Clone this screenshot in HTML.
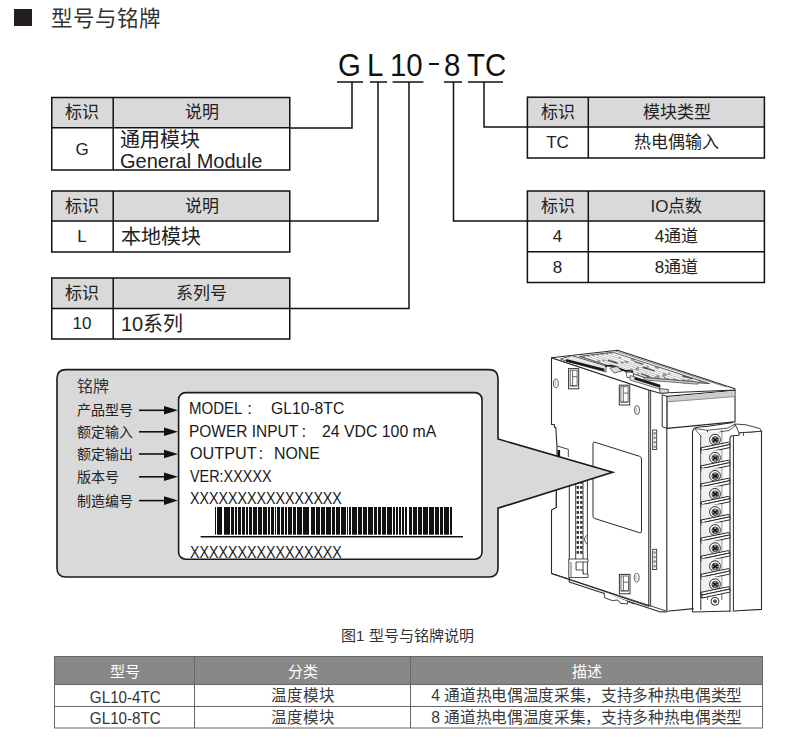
<!DOCTYPE html>
<html lang="zh-CN"><head><meta charset="utf-8">
<style>
*{margin:0;padding:0;box-sizing:border-box}
html,body{width:800px;height:742px;background:#fff;overflow:hidden}
body{position:relative;font-family:"Liberation Sans",sans-serif;color:#222}
.a{position:absolute;white-space:nowrap;line-height:1}
.c{position:absolute;display:flex;align-items:center;justify-content:center;white-space:nowrap;line-height:1}
.l{position:absolute;display:flex;align-items:center;justify-content:flex-start;white-space:nowrap;line-height:1}
svg{position:absolute;left:0;top:0}
</style></head>
<body>
<svg width="800" height="742" viewBox="0 0 800 742">
  <!-- heading square -->
  <rect x="14" y="9" width="18" height="17" fill="#231f20"/>
  <!-- left tables backgrounds -->
  <g fill="#d9d9d9">
    <rect x="51" y="97" width="239" height="31"/>
    <rect x="51" y="191" width="239" height="30"/>
    <rect x="51" y="278" width="239" height="30.5"/>
    <rect x="527" y="97" width="238" height="30"/>
    <rect x="527" y="191" width="238" height="30"/>
  </g>
  <g fill="none" stroke="#111" stroke-width="1.5">
    <!-- table 1 -->
    <rect x="51.75" y="97.5" width="238" height="72.5"/>
    <line x1="51" y1="127.7" x2="290" y2="127.7"/>
    <line x1="113.2" y1="97" x2="113.2" y2="170"/>
    <!-- table 2 -->
    <rect x="51.75" y="191" width="238" height="61"/>
    <line x1="51" y1="221" x2="290" y2="221"/>
    <line x1="113.2" y1="191" x2="113.2" y2="252"/>
    <!-- table 3 -->
    <rect x="51.75" y="278" width="238" height="61"/>
    <line x1="51" y1="308.5" x2="290" y2="308.5"/>
    <line x1="113.2" y1="278" x2="113.2" y2="339"/>
    <!-- right table 1 -->
    <rect x="527.4" y="97.2" width="237" height="60.8"/>
    <line x1="527" y1="127" x2="765" y2="127"/>
    <line x1="588.3" y1="97" x2="588.3" y2="158"/>
    <!-- right table 2 -->
    <rect x="527.4" y="191" width="237" height="91.5"/>
    <line x1="527" y1="221" x2="765" y2="221"/>
    <line x1="527" y1="251.7" x2="765" y2="251.7"/>
    <line x1="588.3" y1="191" x2="588.3" y2="282.5"/>
    <!-- code underlines -->
    <line x1="337" y1="82" x2="363" y2="82"/>
    <line x1="370" y1="82" x2="387" y2="82"/>
    <line x1="392.6" y1="82" x2="423.4" y2="82"/>
    <line x1="444" y1="82" x2="462" y2="82"/>
    <line x1="468" y1="82" x2="503" y2="82"/>
    <!-- connectors -->
    <polyline points="352,82 352,128 290,128"/>
    <polyline points="378,82 378,221 290,221"/>
    <polyline points="409,82 409,308.5 290,308.5"/>
    <polyline points="453.5,82 453.5,221 527,221"/>
    <polyline points="484,82 484,127 527,127"/>
  </g>
</svg>

<!-- heading -->
<div class="a" style="left:51px;top:9px;font-size:21.5px;color:#333">型号与铭牌</div>

<!-- code -->
<div class="a" style="left:338px;top:48.5px;font-size:32px;color:#111;transform:scaleX(0.92);transform-origin:0 0">G</div>
<div class="a" style="left:367px;top:48.5px;font-size:32px;color:#111;transform:scaleX(0.92);transform-origin:0 0">L</div>
<div class="a" style="left:390px;top:48.5px;font-size:32px;color:#111;transform:scaleX(0.92);transform-origin:0 0">10</div>
<div class="a" style="left:429px;top:63.4px;width:10px;height:1.6px;background:#111"></div>
<div class="a" style="left:444px;top:48.5px;font-size:32px;color:#111;transform:scaleX(0.92);transform-origin:0 0">8</div>
<div class="a" style="left:466.5px;top:48.5px;font-size:32px;color:#111;transform:scaleX(0.92);transform-origin:0 0">TC</div>

<!-- table 1 text -->
<div class="c" style="left:51px;top:97px;width:62px;height:31px;font-size:17px">标识</div>
<div class="c" style="left:113px;top:97px;width:177px;height:31px;font-size:17px">说明</div>
<div class="c" style="left:51px;top:128px;width:62px;height:42px;font-size:17px">G</div>
<div class="a" style="left:120px;top:130px;font-size:20px;line-height:20.5px">通用模块<br>General Module</div>

<!-- table 2 text -->
<div class="c" style="left:51px;top:191px;width:62px;height:30px;font-size:17px">标识</div>
<div class="c" style="left:113px;top:191px;width:177px;height:30px;font-size:17px">说明</div>
<div class="c" style="left:51px;top:221px;width:62px;height:31px;font-size:17px">L</div>
<div class="l" style="left:121px;top:221px;width:160px;height:31px;font-size:20px">本地模块</div>

<!-- table 3 text -->
<div class="c" style="left:51px;top:278px;width:62px;height:30.5px;font-size:17px">标识</div>
<div class="c" style="left:113px;top:278px;width:177px;height:30.5px;font-size:17px">系列号</div>
<div class="c" style="left:51px;top:308.5px;width:62px;height:30.5px;font-size:17px">10</div>
<div class="l" style="left:121px;top:308.5px;width:160px;height:30.5px;font-size:20px">10系列</div>

<!-- right table 1 -->
<div class="c" style="left:527px;top:97px;width:61px;height:30px;font-size:17px">标识</div>
<div class="c" style="left:588px;top:97px;width:177px;height:30px;font-size:17px">模块类型</div>
<div class="c" style="left:527px;top:127px;width:61px;height:31px;font-size:17px">TC</div>
<div class="c" style="left:588px;top:127px;width:177px;height:31px;font-size:17px">热电偶输入</div>

<!-- right table 2 -->
<div class="c" style="left:527px;top:191px;width:61px;height:30px;font-size:17px">标识</div>
<div class="c" style="left:588px;top:191px;width:177px;height:30px;font-size:17px">IO点数</div>
<div class="c" style="left:527px;top:221px;width:61px;height:31px;font-size:17px">4</div>
<div class="c" style="left:588px;top:221px;width:177px;height:31px;font-size:17px">4通道</div>
<div class="c" style="left:527px;top:252px;width:61px;height:31px;font-size:17px">8</div>
<div class="c" style="left:588px;top:252px;width:177px;height:31px;font-size:17px">8通道</div>

<!-- device -->
<!--DEVICE_START--><svg width="800" height="742" viewBox="0 0 800 742">
<polygon points="551.50,357.80 648.80,390.00 648.80,606.30 551.50,573.60 551.50,510.00 556.30,507.50 556.30,492.00 557.00,470.00 557.00,446.00 556.30,436.00 555.80,427.20 554.40,427.20 554.40,424.50 551.50,424.50" fill="#fff" stroke="#2a2a2a" stroke-width="1.1" stroke-linejoin="round"/>
<polygon points="551.50,357.80 617.50,350.30 735.00,388.70 735.00,390.00 668.30,392.80 660.20,393.20 648.80,390.00" fill="#fff" stroke="#2a2a2a" stroke-width="1.1" stroke-linejoin="round"/>
<polygon points="579.26,356.40 612.58,352.17 709.58,383.60 698.98,383.05 645.26,377.78" fill="#959595" stroke="#444" stroke-width="0.8" stroke-linejoin="round"/>
<line x1="614.20" y1="350.68" x2="726.20" y2="386.96" stroke="#555" stroke-width="0.7"/>
<line x1="585.22" y1="356.59" x2="597.50" y2="360.57" stroke="#f8f8f8" stroke-width="1.5"/>
<line x1="600.36" y1="361.50" x2="615.02" y2="366.25" stroke="#f8f8f8" stroke-width="1.5"/>
<line x1="618.03" y1="367.23" x2="637.30" y2="373.47" stroke="#f8f8f8" stroke-width="1.5"/>
<line x1="638.96" y1="374.01" x2="645.91" y2="376.26" stroke="#f8f8f8" stroke-width="1.5"/>
<line x1="589.84" y1="356.07" x2="602.51" y2="360.17" stroke="#f8f8f8" stroke-width="1.5"/>
<line x1="604.59" y1="360.85" x2="630.52" y2="369.25" stroke="#f8f8f8" stroke-width="1.5"/>
<line x1="633.19" y1="370.11" x2="654.84" y2="377.13" stroke="#f8f8f8" stroke-width="1.5"/>
<line x1="594.46" y1="355.54" x2="613.96" y2="361.86" stroke="#f8f8f8" stroke-width="1.5"/>
<line x1="615.84" y1="362.47" x2="635.27" y2="368.77" stroke="#f8f8f8" stroke-width="1.5"/>
<line x1="638.94" y1="369.95" x2="656.35" y2="375.60" stroke="#f8f8f8" stroke-width="1.5"/>
<line x1="659.71" y1="376.68" x2="663.77" y2="378.00" stroke="#f8f8f8" stroke-width="1.5"/>
<line x1="599.08" y1="355.02" x2="620.73" y2="362.03" stroke="#f8f8f8" stroke-width="1.5"/>
<line x1="623.71" y1="363.00" x2="637.13" y2="367.35" stroke="#f8f8f8" stroke-width="1.5"/>
<line x1="638.71" y1="367.86" x2="662.29" y2="375.50" stroke="#f8f8f8" stroke-width="1.5"/>
<line x1="664.97" y1="376.37" x2="672.70" y2="378.87" stroke="#f8f8f8" stroke-width="1.5"/>
<line x1="603.70" y1="354.49" x2="624.55" y2="361.25" stroke="#f8f8f8" stroke-width="1.5"/>
<line x1="628.36" y1="362.48" x2="643.47" y2="367.38" stroke="#f8f8f8" stroke-width="1.5"/>
<line x1="646.97" y1="368.51" x2="662.97" y2="373.70" stroke="#f8f8f8" stroke-width="1.5"/>
<line x1="666.81" y1="374.94" x2="681.62" y2="379.74" stroke="#f8f8f8" stroke-width="1.5"/>
<line x1="608.32" y1="353.97" x2="618.77" y2="357.35" stroke="#f8f8f8" stroke-width="1.5"/>
<line x1="620.81" y1="358.02" x2="646.19" y2="366.24" stroke="#f8f8f8" stroke-width="1.5"/>
<line x1="648.78" y1="367.08" x2="668.06" y2="373.32" stroke="#f8f8f8" stroke-width="1.5"/>
<line x1="670.31" y1="374.05" x2="687.44" y2="379.60" stroke="#f8f8f8" stroke-width="1.5"/>
<line x1="689.91" y1="380.40" x2="690.55" y2="380.61" stroke="#f8f8f8" stroke-width="1.5"/>
<line x1="612.28" y1="353.52" x2="630.80" y2="359.52" stroke="#f8f8f8" stroke-width="1.5"/>
<line x1="634.56" y1="360.74" x2="654.83" y2="367.31" stroke="#f8f8f8" stroke-width="1.5"/>
<line x1="658.66" y1="368.54" x2="682.07" y2="376.13" stroke="#f8f8f8" stroke-width="1.5"/>
<line x1="686.05" y1="377.42" x2="698.20" y2="381.36" stroke="#f8f8f8" stroke-width="1.5"/>
<line x1="607.80" y1="360.16" x2="617.80" y2="363.40" stroke="#444" stroke-width="1.2"/>
<line x1="642.70" y1="367.13" x2="654.70" y2="371.02" stroke="#444" stroke-width="1.2"/>
<line x1="641.20" y1="373.87" x2="649.20" y2="376.46" stroke="#444" stroke-width="1.2"/>
<line x1="682.60" y1="375.73" x2="692.60" y2="378.97" stroke="#444" stroke-width="1.2"/>
<line x1="634.30" y1="361.52" x2="643.30" y2="364.44" stroke="#444" stroke-width="1.2"/>
<line x1="677.42" y1="380.69" x2="685.42" y2="383.28" stroke="#444" stroke-width="1.2"/>
<polygon points="560.50,359.00 571.90,355.60 606.00,366.00 606.00,372.00 565.00,360.80" fill="#e8e8e8" stroke="#333" stroke-width="0.8" stroke-linejoin="round"/>
<line x1="566.00" y1="360.20" x2="604.40" y2="370.00" stroke="#1a1a1a" stroke-width="2.6"/>
<path d="M605,366.5 Q612,364 618,368 L626,371 Q629,369.5 633,372" fill="none" stroke="#111" stroke-width="1.6" stroke-linejoin="round"/>
<polygon points="610.00,368.00 617.00,366.50 622.00,371.00 614.00,373.00" fill="#ddd" stroke="#333" stroke-width="0.7" stroke-linejoin="round"/>
<polygon points="626.00,372.00 633.00,372.50 634.00,378.00 627.00,377.50" fill="#fff" stroke="#333" stroke-width="0.8" stroke-linejoin="round"/>
<polygon points="630.00,375.50 660.00,385.00 660.00,389.00 630.00,380.00" fill="#e8e8e8" stroke="#333" stroke-width="0.7" stroke-linejoin="round"/>
<line x1="634.50" y1="378.20" x2="660.00" y2="386.20" stroke="#1a1a1a" stroke-width="2.6"/>
<polygon points="643.70,377.50 697.50,382.00 697.50,384.20 645.00,380.00" fill="#ccc" stroke="#444" stroke-width="0.7" stroke-linejoin="round"/>
<polygon points="659.40,388.70 668.30,389.50 668.30,392.80 660.20,393.20" fill="#ddd" stroke="#333" stroke-width="0.8" stroke-linejoin="round"/>
<polygon points="662.20,394.80 667.10,396.40 667.10,428.40 662.20,426.70" fill="#fff" stroke="#2a2a2a" stroke-width="1" stroke-linejoin="round"/>
<polygon points="667.10,396.40 735.00,390.30 735.00,421.90 667.10,428.40" fill="#fff" stroke="#2a2a2a" stroke-width="1.1" stroke-linejoin="round"/>
<polygon points="667.60,397.00 734.50,390.90 734.50,396.40 667.60,401.70" fill="#cdcdcd" stroke-linejoin="round"/>
<line x1="667.10" y1="401.90" x2="735.00" y2="396.60" stroke="#666" stroke-width="0.7"/>
<line x1="650.60" y1="391.00" x2="650.60" y2="606.50" stroke="#2a2a2a" stroke-width="0.9"/>
<line x1="666.80" y1="428.40" x2="666.80" y2="610.50" stroke="#2a2a2a" stroke-width="1.1"/>
<polyline points="551.50,573.60 569.30,579.30 569.30,582.00 659.00,611.60 667.00,612.00" fill="none" stroke="#2a2a2a" stroke-width="1.1" stroke-linejoin="round"/>
<line x1="569.30" y1="579.30" x2="666.80" y2="611.20" stroke="#2a2a2a" stroke-width="0.9"/>
<polyline points="604.00,592.30 604.70,597.80 612.30,600.60 617.80,600.00 620.50,603.30 627.40,604.00 627.40,601.30 634.30,604.00" fill="#fff" stroke="#2a2a2a" stroke-width="0.9" stroke-linejoin="round"/>
<line x1="666.80" y1="611.20" x2="693.60" y2="608.60" stroke="#2a2a2a" stroke-width="1.1"/>
<path d="M692.5,612 V433 Q692.5,428 697,427.3 L708,426.3 L733,422.5" fill="none" stroke="#2a2a2a" stroke-width="1.1" stroke-linejoin="round"/>
<line x1="700.80" y1="436.00" x2="700.80" y2="610.00" stroke="#2a2a2a" stroke-width="1"/>
<line x1="692.50" y1="612.00" x2="733.40" y2="611.00" stroke="#2a2a2a" stroke-width="1"/>
<polygon points="694.50,428.50 707.50,430.30 707.50,436.50 700.80,436.00" fill="#fff" stroke="#2a2a2a" stroke-width="0.8" stroke-linejoin="round"/>
<polygon points="707.50,430.30 728.00,428.00 735.00,424.00 735.00,426.00 729.00,430.50 721.80,431.50 707.50,436.50" fill="#fff" stroke="#2a2a2a" stroke-width="0.8" stroke-linejoin="round"/>
<line x1="707.60" y1="436.50" x2="707.60" y2="600.00" stroke="#2a2a2a" stroke-width="0.7"/>
<line x1="721.80" y1="430.00" x2="721.80" y2="600.00" stroke="#2a2a2a" stroke-width="0.7"/>
<path d="M730,612 V438 Q730,436 732,435.8 L739,435.3 L739,432.8 L743.5,432.5 L761.5,431.2 V609.4 L733.4,611" fill="#fff" stroke="#2a2a2a" stroke-width="1.1" stroke-linejoin="round"/>
<polygon points="739.00,432.80 743.50,432.50 761.50,431.20 760.00,428.60 746.00,424.80 735.00,424.00" fill="#fff" stroke="#2a2a2a" stroke-width="0.9" stroke-linejoin="round"/>
<line x1="733.40" y1="436.00" x2="733.40" y2="611.00" stroke="#2a2a2a" stroke-width="1"/>
<line x1="743.50" y1="432.50" x2="743.50" y2="436.00" stroke="#2a2a2a" stroke-width="0.8"/>
<rect x="701.5" y="432.20" width="20" height="15" fill="#f0f0f0"/>
<circle cx="715" cy="439.70" r="5.4" fill="#fff" stroke="#333" stroke-width="1"/>
<circle cx="715.3" cy="440.00" r="3.4" fill="#999" stroke="#444" stroke-width="0.9"/>
<path d="M713,438.20 L717.5,441.70 M717.5,438.20 L713,441.70" stroke="#111" stroke-width="1.5"/>
<polygon points="700.80,447.80 728.80,442.10 730.00,444.50 702.00,450.50" fill="#fff" stroke="#2a2a2a" stroke-width="1" stroke-linejoin="round"/>
<polygon points="702.00,450.50 730.00,444.50 730.00,447.50 702.00,453.50" fill="#fff" stroke="#2a2a2a" stroke-width="1" stroke-linejoin="round"/>
<line x1="700.80" y1="447.80" x2="700.80" y2="452.30" stroke="#2a2a2a" stroke-width="0.9"/>
<line x1="700.80" y1="452.30" x2="702.00" y2="453.50" stroke="#2a2a2a" stroke-width="0.9"/>
<rect x="701.5" y="450.27" width="20" height="15" fill="#f0f0f0"/>
<circle cx="715" cy="457.77" r="5.4" fill="#fff" stroke="#333" stroke-width="1"/>
<circle cx="715.3" cy="458.07" r="3.4" fill="#999" stroke="#444" stroke-width="0.9"/>
<path d="M713,456.27 L717.5,459.77 M717.5,456.27 L713,459.77" stroke="#111" stroke-width="1.5"/>
<polygon points="700.80,465.87 728.80,460.17 730.00,462.57 702.00,468.57" fill="#fff" stroke="#2a2a2a" stroke-width="1" stroke-linejoin="round"/>
<polygon points="702.00,468.57 730.00,462.57 730.00,465.57 702.00,471.57" fill="#fff" stroke="#2a2a2a" stroke-width="1" stroke-linejoin="round"/>
<line x1="700.80" y1="465.87" x2="700.80" y2="470.37" stroke="#2a2a2a" stroke-width="0.9"/>
<line x1="700.80" y1="470.37" x2="702.00" y2="471.57" stroke="#2a2a2a" stroke-width="0.9"/>
<rect x="701.5" y="468.34" width="20" height="15" fill="#f0f0f0"/>
<circle cx="715" cy="475.84" r="5.4" fill="#fff" stroke="#333" stroke-width="1"/>
<circle cx="715.3" cy="476.14" r="3.4" fill="#999" stroke="#444" stroke-width="0.9"/>
<path d="M713,474.34 L717.5,477.84 M717.5,474.34 L713,477.84" stroke="#111" stroke-width="1.5"/>
<polygon points="700.80,483.94 728.80,478.24 730.00,480.64 702.00,486.64" fill="#fff" stroke="#2a2a2a" stroke-width="1" stroke-linejoin="round"/>
<polygon points="702.00,486.64 730.00,480.64 730.00,483.64 702.00,489.64" fill="#fff" stroke="#2a2a2a" stroke-width="1" stroke-linejoin="round"/>
<line x1="700.80" y1="483.94" x2="700.80" y2="488.44" stroke="#2a2a2a" stroke-width="0.9"/>
<line x1="700.80" y1="488.44" x2="702.00" y2="489.64" stroke="#2a2a2a" stroke-width="0.9"/>
<rect x="701.5" y="486.41" width="20" height="15" fill="#f0f0f0"/>
<circle cx="715" cy="493.91" r="5.4" fill="#fff" stroke="#333" stroke-width="1"/>
<circle cx="715.3" cy="494.21" r="3.4" fill="#999" stroke="#444" stroke-width="0.9"/>
<path d="M713,492.41 L717.5,495.91 M717.5,492.41 L713,495.91" stroke="#111" stroke-width="1.5"/>
<polygon points="700.80,502.01 728.80,496.31 730.00,498.71 702.00,504.71" fill="#fff" stroke="#2a2a2a" stroke-width="1" stroke-linejoin="round"/>
<polygon points="702.00,504.71 730.00,498.71 730.00,501.71 702.00,507.71" fill="#fff" stroke="#2a2a2a" stroke-width="1" stroke-linejoin="round"/>
<line x1="700.80" y1="502.01" x2="700.80" y2="506.51" stroke="#2a2a2a" stroke-width="0.9"/>
<line x1="700.80" y1="506.51" x2="702.00" y2="507.71" stroke="#2a2a2a" stroke-width="0.9"/>
<rect x="701.5" y="504.48" width="20" height="15" fill="#f0f0f0"/>
<circle cx="715" cy="511.98" r="5.4" fill="#fff" stroke="#333" stroke-width="1"/>
<circle cx="715.3" cy="512.28" r="3.4" fill="#999" stroke="#444" stroke-width="0.9"/>
<path d="M713,510.48 L717.5,513.98 M717.5,510.48 L713,513.98" stroke="#111" stroke-width="1.5"/>
<polygon points="700.80,520.08 728.80,514.38 730.00,516.78 702.00,522.78" fill="#fff" stroke="#2a2a2a" stroke-width="1" stroke-linejoin="round"/>
<polygon points="702.00,522.78 730.00,516.78 730.00,519.78 702.00,525.78" fill="#fff" stroke="#2a2a2a" stroke-width="1" stroke-linejoin="round"/>
<line x1="700.80" y1="520.08" x2="700.80" y2="524.58" stroke="#2a2a2a" stroke-width="0.9"/>
<line x1="700.80" y1="524.58" x2="702.00" y2="525.78" stroke="#2a2a2a" stroke-width="0.9"/>
<rect x="701.5" y="522.55" width="20" height="15" fill="#f0f0f0"/>
<circle cx="715" cy="530.05" r="5.4" fill="#fff" stroke="#333" stroke-width="1"/>
<circle cx="715.3" cy="530.35" r="3.4" fill="#999" stroke="#444" stroke-width="0.9"/>
<path d="M713,528.55 L717.5,532.05 M717.5,528.55 L713,532.05" stroke="#111" stroke-width="1.5"/>
<polygon points="700.80,538.15 728.80,532.45 730.00,534.85 702.00,540.85" fill="#fff" stroke="#2a2a2a" stroke-width="1" stroke-linejoin="round"/>
<polygon points="702.00,540.85 730.00,534.85 730.00,537.85 702.00,543.85" fill="#fff" stroke="#2a2a2a" stroke-width="1" stroke-linejoin="round"/>
<line x1="700.80" y1="538.15" x2="700.80" y2="542.65" stroke="#2a2a2a" stroke-width="0.9"/>
<line x1="700.80" y1="542.65" x2="702.00" y2="543.85" stroke="#2a2a2a" stroke-width="0.9"/>
<rect x="701.5" y="540.62" width="20" height="15" fill="#f0f0f0"/>
<circle cx="715" cy="548.12" r="5.4" fill="#fff" stroke="#333" stroke-width="1"/>
<circle cx="715.3" cy="548.42" r="3.4" fill="#999" stroke="#444" stroke-width="0.9"/>
<path d="M713,546.62 L717.5,550.12 M717.5,546.62 L713,550.12" stroke="#111" stroke-width="1.5"/>
<polygon points="700.80,556.22 728.80,550.52 730.00,552.92 702.00,558.92" fill="#fff" stroke="#2a2a2a" stroke-width="1" stroke-linejoin="round"/>
<polygon points="702.00,558.92 730.00,552.92 730.00,555.92 702.00,561.92" fill="#fff" stroke="#2a2a2a" stroke-width="1" stroke-linejoin="round"/>
<line x1="700.80" y1="556.22" x2="700.80" y2="560.72" stroke="#2a2a2a" stroke-width="0.9"/>
<line x1="700.80" y1="560.72" x2="702.00" y2="561.92" stroke="#2a2a2a" stroke-width="0.9"/>
<rect x="701.5" y="558.69" width="20" height="15" fill="#f0f0f0"/>
<circle cx="715" cy="566.19" r="5.4" fill="#fff" stroke="#333" stroke-width="1"/>
<circle cx="715.3" cy="566.49" r="3.4" fill="#999" stroke="#444" stroke-width="0.9"/>
<path d="M713,564.69 L717.5,568.19 M717.5,564.69 L713,568.19" stroke="#111" stroke-width="1.5"/>
<polygon points="700.80,574.29 728.80,568.59 730.00,570.99 702.00,576.99" fill="#fff" stroke="#2a2a2a" stroke-width="1" stroke-linejoin="round"/>
<polygon points="702.00,576.99 730.00,570.99 730.00,573.99 702.00,579.99" fill="#fff" stroke="#2a2a2a" stroke-width="1" stroke-linejoin="round"/>
<line x1="700.80" y1="574.29" x2="700.80" y2="578.79" stroke="#2a2a2a" stroke-width="0.9"/>
<line x1="700.80" y1="578.79" x2="702.00" y2="579.99" stroke="#2a2a2a" stroke-width="0.9"/>
<rect x="701.5" y="576.76" width="20" height="15" fill="#f0f0f0"/>
<circle cx="715" cy="584.26" r="5.4" fill="#fff" stroke="#333" stroke-width="1"/>
<circle cx="715.3" cy="584.56" r="3.4" fill="#999" stroke="#444" stroke-width="0.9"/>
<path d="M713,582.76 L717.5,586.26 M717.5,582.76 L713,586.26" stroke="#111" stroke-width="1.5"/>
<polygon points="700.80,592.36 728.80,586.66 730.00,589.06 702.00,595.06" fill="#fff" stroke="#2a2a2a" stroke-width="1" stroke-linejoin="round"/>
<polygon points="702.00,595.06 730.00,589.06 730.00,592.06 702.00,598.06" fill="#fff" stroke="#2a2a2a" stroke-width="1" stroke-linejoin="round"/>
<line x1="700.80" y1="592.36" x2="700.80" y2="596.86" stroke="#2a2a2a" stroke-width="0.9"/>
<line x1="700.80" y1="596.86" x2="702.00" y2="598.06" stroke="#2a2a2a" stroke-width="0.9"/>
<circle cx="715" cy="601.3" r="4" fill="#fff" stroke="#333" stroke-width="1"/>
<circle cx="715" cy="601.3" r="2" fill="#555"/>
<rect x="652.7" y="430" width="4" height="19.5" fill="#fff" stroke="#333" stroke-width="0.9"/>
<rect x="653.7" y="432.0" width="2" height="2.6" fill="#888"/>
<rect x="653.7" y="436.5" width="2" height="2.6" fill="#888"/>
<rect x="653.7" y="441.0" width="2" height="2.6" fill="#888"/>
<rect x="653.7" y="445.5" width="2" height="2.6" fill="#888"/>
<rect x="652.7" y="549.3" width="4" height="20.2" fill="#fff" stroke="#333" stroke-width="0.9"/>
<rect x="653.7" y="551.3" width="2" height="2.6" fill="#888"/>
<rect x="653.7" y="555.8" width="2" height="2.6" fill="#888"/>
<rect x="653.7" y="560.3" width="2" height="2.6" fill="#888"/>
<rect x="653.7" y="564.8" width="2" height="2.6" fill="#888"/>
<rect x="568.6" y="368.6" width="10.1" height="20.2" fill="#fff" stroke="#333" stroke-width="1"/>
<rect x="570.2" y="370.2" width="6.9" height="15.7" fill="none" stroke="#444" stroke-width="0.8"/>
<path d="M572.6,370.6 V385.8 M572.6,376.7 H577.1 M570.2,385.9 H577.1" fill="none" stroke="#444" stroke-width="0.8"/>
<rect x="619.3" y="385.2" width="10.4" height="19.8" fill="#fff" stroke="#333" stroke-width="1"/>
<rect x="620.9" y="386.8" width="7.2" height="15.3" fill="none" stroke="#444" stroke-width="0.8"/>
<path d="M623.3,387.2 V402.0 M623.3,393.1 H628.1 M620.9,402.1 H628.1" fill="none" stroke="#444" stroke-width="0.8"/>
<rect x="619.4" y="574.4" width="10.6" height="19.4" fill="#fff" stroke="#333" stroke-width="1"/>
<rect x="621.0" y="576.0" width="7.4" height="14.9" fill="none" stroke="#444" stroke-width="0.8"/>
<path d="M623.4,576.4 V590.8 M623.4,582.2 H628.4 M621.0,590.9 H628.4" fill="none" stroke="#444" stroke-width="0.8"/>
<ellipse cx="555.9" cy="383.4" rx="2.4" ry="4.3" fill="none" stroke="#444" stroke-width="0.9"/>
<line x1="555.3" y1="380.9" x2="555.3" y2="385.9" stroke="#777" stroke-width="0.6"/>
<ellipse cx="637" cy="410" rx="2.4" ry="4.3" fill="none" stroke="#444" stroke-width="0.9"/>
<line x1="636.4" y1="407.5" x2="636.4" y2="412.5" stroke="#777" stroke-width="0.6"/>
<ellipse cx="636.7" cy="577.6" rx="2.4" ry="4.3" fill="none" stroke="#444" stroke-width="0.9"/>
<line x1="636.1" y1="575.1" x2="636.1" y2="580.1" stroke="#777" stroke-width="0.6"/>
<path d="M593,443.5 Q593,441.8 595,442.3 L639.5,456.3 Q641.5,457 641.5,459 V531 Q641.5,533.3 639.5,532.7 L595,518.6 Q593,518 593,516 Z" fill="#fff" stroke="#2a2a2a" stroke-width="1" stroke-linejoin="round"/>
<polyline points="557.00,446.00 568.30,449.30 568.30,457.00" fill="none" stroke="#2a2a2a" stroke-width="0.9" stroke-linejoin="round"/>
<rect x="557.5" y="450" width="2.6" height="8" fill="#111"/>
<line x1="569.30" y1="479.00" x2="569.30" y2="579.00" stroke="#2a2a2a" stroke-width="1"/>
<line x1="575.70" y1="480.00" x2="575.70" y2="575.00" stroke="#2a2a2a" stroke-width="0.9"/>
<line x1="583.00" y1="478.00" x2="583.00" y2="575.00" stroke="#2a2a2a" stroke-width="0.9"/>
<line x1="587.40" y1="478.00" x2="587.40" y2="575.00" stroke="#2a2a2a" stroke-width="0.9"/>
<rect x="576.6" y="481.0" width="2.4" height="2.8" fill="#333"/>
<rect x="580.1" y="481.0" width="2.4" height="2.8" fill="#333"/>
<rect x="576.6" y="486.0" width="2.4" height="2.8" fill="#333"/>
<rect x="580.1" y="486.0" width="2.4" height="2.8" fill="#333"/>
<rect x="576.6" y="491.0" width="2.4" height="2.8" fill="#333"/>
<rect x="580.1" y="491.0" width="2.4" height="2.8" fill="#333"/>
<rect x="576.6" y="496.0" width="2.4" height="2.8" fill="#333"/>
<rect x="580.1" y="496.0" width="2.4" height="2.8" fill="#333"/>
<rect x="576.6" y="501.0" width="2.4" height="2.8" fill="#333"/>
<rect x="580.1" y="501.0" width="2.4" height="2.8" fill="#333"/>
<rect x="576.6" y="506.0" width="2.4" height="2.8" fill="#333"/>
<rect x="580.1" y="506.0" width="2.4" height="2.8" fill="#333"/>
<rect x="576.6" y="511.0" width="2.4" height="2.8" fill="#333"/>
<rect x="580.1" y="511.0" width="2.4" height="2.8" fill="#333"/>
<rect x="576.6" y="516.0" width="2.4" height="2.8" fill="#333"/>
<rect x="580.1" y="516.0" width="2.4" height="2.8" fill="#333"/>
<rect x="576.6" y="521.0" width="2.4" height="2.8" fill="#333"/>
<rect x="580.1" y="521.0" width="2.4" height="2.8" fill="#333"/>
<rect x="576.6" y="526.0" width="2.4" height="2.8" fill="#333"/>
<rect x="580.1" y="526.0" width="2.4" height="2.8" fill="#333"/>
<rect x="576.6" y="531.0" width="2.4" height="2.8" fill="#333"/>
<rect x="580.1" y="531.0" width="2.4" height="2.8" fill="#333"/>
<rect x="576.6" y="536.0" width="2.4" height="2.8" fill="#333"/>
<rect x="580.1" y="536.0" width="2.4" height="2.8" fill="#333"/>
<rect x="576.6" y="541.0" width="2.4" height="2.8" fill="#333"/>
<rect x="580.1" y="541.0" width="2.4" height="2.8" fill="#333"/>
<rect x="576.6" y="546.0" width="2.4" height="2.8" fill="#333"/>
<rect x="580.1" y="546.0" width="2.4" height="2.8" fill="#333"/>
<rect x="576.6" y="551.0" width="2.4" height="2.8" fill="#333"/>
<rect x="580.1" y="551.0" width="2.4" height="2.8" fill="#333"/>
<path d="M587.4,535 Q584,537 584.5,540 Q585,543 587.4,544" fill="none" stroke="#2a2a2a" stroke-width="0.8" stroke-linejoin="round"/>
<polygon points="568.80,559.00 588.00,559.00 588.00,562.00 576.00,562.00 576.00,570.00 583.00,570.00 583.00,574.00 588.00,574.00 588.00,577.50 568.80,577.50" fill="#fff" stroke="#2a2a2a" stroke-width="0.8" stroke-linejoin="round"/>
<line x1="571.00" y1="562.00" x2="571.00" y2="577.00" stroke="#2a2a2a" stroke-width="0.7"/>
<line x1="556.30" y1="492.00" x2="556.30" y2="507.50" stroke="#2a2a2a" stroke-width="0.9"/>
</svg><!--DEVICE_END-->

<svg width="800" height="742" viewBox="0 0 800 742">
  <!-- nameplate outer -->
  <path d="M66,369.6 H489 Q498,369.6 498,378.6 V439 L612.6,472.2 L498,508.2 V568 Q498,577 489,577 H66 Q57,577 57,568 V378.6 Q57,369.6 66,369.6 Z" fill="#d9d9d9" stroke="#1a1a1a" stroke-width="1.6"/>
  <rect x="178.6" y="392.6" width="303.4" height="166.6" rx="7" ry="7" fill="#fff" stroke="#1a1a1a" stroke-width="1.6"/>
  <!-- arrows -->
  <g stroke="#111" stroke-width="1.6">
    <line x1="139" y1="410.3" x2="166" y2="410.3"/>
    <line x1="139" y1="431.8" x2="166" y2="431.8"/>
    <line x1="139" y1="454" x2="166" y2="454"/>
    <line x1="139" y1="476.8" x2="166" y2="476.8"/>
    <line x1="139" y1="500.6" x2="166" y2="500.6"/>
  </g>
  <g fill="#111">
    <polygon points="164,406 178,410.3 164,414.6"/>
    <polygon points="164,427.5 178,431.8 164,436.1"/>
    <polygon points="164,449.7 178,454 164,458.3"/>
    <polygon points="164,472.5 178,476.8 164,481.1"/>
    <polygon points="164,496.3 178,500.6 164,504.9"/>
  </g>
  <!-- barcode underline -->
  <line x1="200.6" y1="536.8" x2="463" y2="536.8" stroke="#111" stroke-width="1.5"/>
  <g fill="#111"><rect x="215" y="507" width="1" height="27.7"/><rect x="217" y="507" width="5" height="27.7"/><rect x="224" y="507" width="6" height="27.7"/><rect x="231" y="507" width="3" height="27.7"/><rect x="235" y="507" width="2" height="27.7"/><rect x="238" y="507" width="3" height="27.7"/><rect x="242" y="507" width="3" height="27.7"/><rect x="246" y="507" width="2" height="27.7"/><rect x="249" y="507" width="3" height="27.7"/><rect x="253" y="507" width="4" height="27.7"/><rect x="258" y="507" width="4" height="27.7"/><rect x="263" y="507" width="4" height="27.7"/><rect x="268" y="507" width="2" height="27.7"/><rect x="271" y="507" width="3" height="27.7"/><rect x="275" y="507" width="1" height="27.7"/><rect x="277" y="507" width="3" height="27.7"/><rect x="281" y="507" width="3" height="27.7"/><rect x="285" y="507" width="2" height="27.7"/><rect x="288" y="507" width="4" height="27.7"/><rect x="293" y="507" width="3" height="27.7"/><rect x="297" y="507" width="5" height="27.7"/><rect x="303" y="507" width="6" height="27.7"/><rect x="311" y="507" width="4" height="27.7"/><rect x="316" y="507" width="4" height="27.7"/><rect x="321" y="507" width="4" height="27.7"/><rect x="326" y="507" width="5" height="27.7"/><rect x="332" y="507" width="3" height="27.7"/><rect x="336" y="507" width="4" height="27.7"/><rect x="341" y="507" width="5" height="27.7"/><rect x="347" y="507" width="1" height="27.7"/><rect x="349" y="507" width="2" height="27.7"/><rect x="352" y="507" width="5" height="27.7"/><rect x="358" y="507" width="4" height="27.7"/><rect x="363" y="507" width="4" height="27.7"/><rect x="368" y="507" width="5" height="27.7"/><rect x="374" y="507" width="3" height="27.7"/><rect x="378" y="507" width="3" height="27.7"/><rect x="382" y="507" width="4" height="27.7"/><rect x="387" y="507" width="5" height="27.7"/><rect x="393" y="507" width="2" height="27.7"/><rect x="396" y="507" width="2" height="27.7"/><rect x="399" y="507" width="2" height="27.7"/><rect x="402" y="507" width="2" height="27.7"/><rect x="405" y="507" width="2" height="27.7"/><rect x="409" y="507" width="3" height="27.7"/><rect x="413" y="507" width="4" height="27.7"/><rect x="418" y="507" width="4" height="27.7"/><rect x="423" y="507" width="5" height="27.7"/><rect x="429" y="507" width="5" height="27.7"/><rect x="435" y="507" width="4" height="27.7"/><rect x="440" y="507" width="3" height="27.7"/><rect x="444" y="507" width="5" height="27.7"/><rect x="450" y="507" width="2" height="27.7"/></g>
  <!-- bottom table -->
  <rect x="54.5" y="656.5" width="708" height="28" fill="#888"/>
  <g fill="none" stroke="#666" stroke-width="1">
    <rect x="54.5" y="656.5" width="708" height="71.5"/>
    <line x1="54.5" y1="684.5" x2="762.5" y2="684.5"/>
    <line x1="54.5" y1="706.5" x2="762.5" y2="706.5"/>
    <line x1="194.5" y1="656.5" x2="194.5" y2="728"/>
    <line x1="410.5" y1="656.5" x2="410.5" y2="728"/>
  </g>
</svg>

<!-- nameplate text -->
<div class="a" style="left:77px;top:379px;font-size:16px;color:#333">铭牌</div>
<div class="l" style="left:77px;top:400px;height:20px;font-size:14px;color:#222">产品型号</div>
<div class="l" style="left:77px;top:421.5px;height:20px;font-size:14px;color:#222">额定输入</div>
<div class="l" style="left:77px;top:444px;height:20px;font-size:14px;color:#222">额定输出</div>
<div class="l" style="left:77px;top:467px;height:20px;font-size:14px;color:#222">版本号</div>
<div class="l" style="left:77px;top:490.5px;height:20px;font-size:14px;color:#222">制造编号</div>

<div class="a" style="left:189.3px;top:400.1px;font-size:17px;color:#1a1a1a;transform:scaleX(0.883);transform-origin:0 0">MODEL</div>
<div class="a" style="left:247.3px;top:400.1px;font-size:17px;color:#1a1a1a;transform:scaleX(1);transform-origin:0 0">:</div>
<div class="a" style="left:271.2px;top:400.1px;font-size:17px;color:#1a1a1a;transform:scaleX(0.923);transform-origin:0 0">GL10-8TC</div>
<div class="a" style="left:188.7px;top:422.6px;font-size:17px;color:#1a1a1a;transform:scaleX(0.91);transform-origin:0 0">POWER INPUT</div>
<div class="a" style="left:301.6px;top:422.6px;font-size:17px;color:#1a1a1a;transform:scaleX(1);transform-origin:0 0">:</div>
<div class="a" style="left:321.9px;top:422.6px;font-size:17px;color:#1a1a1a;transform:scaleX(0.931);transform-origin:0 0">24 VDC 100 mA</div>
<div class="a" style="left:189.7px;top:445.1px;font-size:17px;color:#1a1a1a;transform:scaleX(0.954);transform-origin:0 0">OUTPUT</div>
<div class="a" style="left:258.6px;top:445.1px;font-size:17px;color:#1a1a1a;transform:scaleX(1);transform-origin:0 0">:</div>
<div class="a" style="left:274px;top:445.1px;font-size:17px;color:#1a1a1a;transform:scaleX(0.933);transform-origin:0 0">NONE</div>
<div class="a" style="left:189.7px;top:467.5px;font-size:17px;color:#1a1a1a;transform:scaleX(0.847);transform-origin:0 0">VER:XXXXX</div>
<div class="a" style="left:189.7px;top:490.4px;font-size:17px;color:#1a1a1a;transform:scaleX(0.837);transform-origin:0 0">XXXXXXXXXXXXXXXX</div>
<div class="a" style="left:189.7px;top:543.6px;font-size:17px;color:#1a1a1a;transform:scaleX(0.837);transform-origin:0 0">XXXXXXXXXXXXXXXX</div>

<!-- caption -->
<div class="a" style="left:341px;top:628px;font-size:15px;color:#333">图1 型号与铭牌说明</div>

<!-- bottom table text -->
<div class="c" style="left:55px;top:657px;width:140px;height:28px;font-size:15px;color:#fff">型号</div>
<div class="c" style="left:195px;top:657px;width:216px;height:28px;font-size:15px;color:#fff">分类</div>
<div class="c" style="left:411px;top:657px;width:352px;height:28px;font-size:15px;color:#fff">描述</div>
<div class="c" style="left:55px;top:686.5px;width:140px;height:22px;font-size:16px;color:#333"><span style="display:inline-block;transform:scaleX(0.95)">GL10-4TC</span></div>
<div class="c" style="left:195px;top:685px;width:216px;height:22px;font-size:15.5px;color:#3a3a3a">温度模块</div>
<div class="c" style="left:411px;top:685px;width:352px;height:22px;font-size:16px;color:#3a3a3a"><span style="display:inline-block;transform:scaleX(0.98)">4 通道热电偶温度采集，支持多种热电偶类型</span></div>
<div class="c" style="left:55px;top:708.5px;width:140px;height:21px;font-size:16px;color:#333"><span style="display:inline-block;transform:scaleX(0.95)">GL10-8TC</span></div>
<div class="c" style="left:195px;top:707px;width:216px;height:21px;font-size:15.5px;color:#3a3a3a">温度模块</div>
<div class="c" style="left:411px;top:707px;width:352px;height:21px;font-size:16px;color:#3a3a3a"><span style="display:inline-block;transform:scaleX(0.98)">8 通道热电偶温度采集，支持多种热电偶类型</span></div>

</body></html>
